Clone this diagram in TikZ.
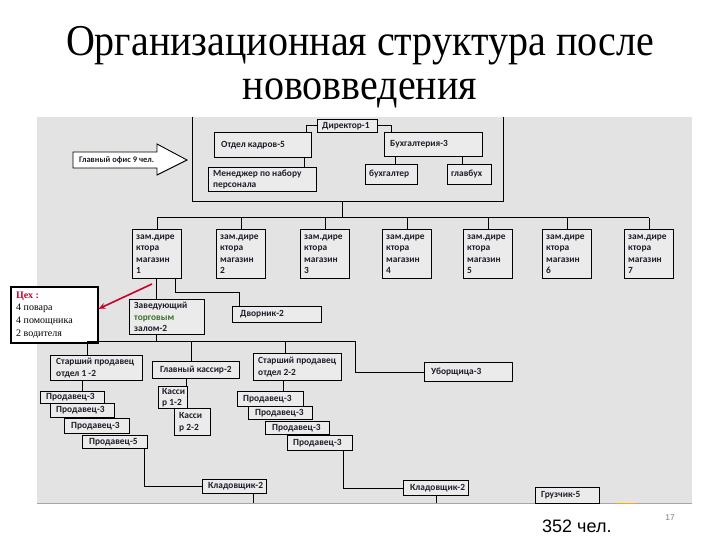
\documentclass[tikz,border=0pt]{standalone}
\usepackage{fontspec}
\setmainfont{Liberation Serif}
\newfontfamily\boxfont{Carlito}
\newfontfamily\numfont{Liberation Sans}
\usetikzlibrary{arrows.meta,calc}
\definecolor{bgc}{HTML}{E3E3E3}
\definecolor{boxfill}{HTML}{EBEBEB}
\definecolor{txt}{HTML}{1E1E2A}
\definecolor{redc}{HTML}{C8002A}
\definecolor{grn}{HTML}{3C6E2E}
\newcommand\mybox[7][5]{%
  \node[bx,anchor=north west,minimum width=#5pt,minimum height=#6pt] (#2) at (#3,#4) {};
  \node[lbl,anchor=west] (#2t) at ([xshift=#1pt]#2.west) {#7};}
\begin{document}
\begin{tikzpicture}[x=1pt,y=-1pt,
  bx/.style={draw=black,line width=1pt,fill=boxfill,inner sep=0pt},
  lbl/.style={font=\boxfont\bfseries\fontsize{9.4}{11.5}\selectfont,text=txt,align=left,inner sep=0pt},
  cn/.style={draw=black,line width=1pt},
  ttl/.style={font=\fontsize{40}{48}\selectfont,anchor=base,yscale=1.1,inner sep=0pt},
  redarr/.style={draw=redc,line width=1.6pt,-{Stealth[length=7pt,width=6pt]}}]
\useasboundingbox (0,0) rectangle (720,540);
% background panel
\fill[bgc] (37,117) rectangle (692,503);
\draw[gray!70,line width=0.8pt] (37,503) -- (692,503);
\draw[orange!70!yellow,line width=0.9pt] (617,503) -- (635,503);
% title
\node[ttl] (t1) at (360,56) {Организационная структура после};
\node[ttl] (t2) at (360,100) {нововведения};
% head office frame
\draw[line width=1pt] (192,117) -- (192,202) -- (503,202) -- (503,117);
\coordinate (ofb) at (342,202);
\coordinate (bus) at (342,218);
% block arrow
\draw[line width=0.9pt,fill=white] (73,152) -- (157,152) -- (157,144) -- (187,160) -- (157,175) -- (157,168) -- (73,168) -- cycle;
\node[lbl,font=\boxfont\bfseries\fontsize{8.5}{10}\selectfont,anchor=west] (arr) at (79,160) {Главный офис 9 чел.};
% office boxes
\mybox{dir}{317}{119}{60}{13}{Директор-1}
\mybox[7]{ok}{214}{132}{97}{25}{Отдел кадров-5}
\mybox{mgr}{208}{167}{108}{24}{Менеджер по набору\\персонала}
\mybox[6]{buh}{384}{132}{98}{24}{Бухгалтерия-3}
\mybox[4]{buhg}{365}{164}{52}{20}{бухгалтер}
\mybox[4]{glb}{447}{164}{44}{20}{главбух}
% stores
\foreach \i/\x in {1/132,2/216,3/300,4/382,5/463,6/542,7/624}{
  \mybox[4]{s\i}{\x}{229}{49}{49}{зам.дире\\ктора\\магазин\\\i}
}
% store 1 subtree
\mybox{zav}{129}{299}{75}{35}{Заведующий\\\textcolor{grn}{торговым}\\залом-2}
\mybox[8]{dvor}{232}{306}{89}{16}{Дворник-2}
\mybox[6]{sp1}{50}{355}{92}{25}{Старший продавец\\отдел 1 -2}
\mybox[8]{gk}{152}{361}{87}{17}{Главный кассир-2}
\mybox{sp2}{253}{353}{88}{27}{Старший продавец\\отдел 2-2}
\mybox[7]{ub}{424}{362}{88}{19}{Уборщица-3}
% sellers left
\mybox[6]{P1}{40}{391}{64}{12}{Продавец-3}
\mybox[6]{P2}{50}{403}{64}{14}{Продавец-3}
\mybox[7]{P3}{64}{418}{65}{15}{Продавец-3}
\mybox[7]{P4}{82}{435}{65}{13}{Продавец-5}
% cashiers
\mybox[4]{K1}{158}{386}{29}{22}{Касси\\р 1-2}
\mybox[5]{K2}{174}{408}{36}{27}{Касси\\р 2-2}
% sellers right
\mybox[6]{R1}{237}{391}{66}{15}{Продавец-3}
\mybox[7]{R2}{248}{406}{64}{13}{Продавец-3}
\mybox[7]{R3}{265}{421}{64}{13}{Продавец-3}
\mybox[6]{R4}{287}{435}{65}{15}{Продавец-3}
% storekeepers, loaders
\mybox[6]{kl1}{202}{479}{64}{14}{Кладовщик-2}
\mybox[7]{kl2}{403}{480}{65}{15}{Кладовщик-2}
\mybox[6]{gr}{535}{487}{64}{16}{Грузчик-5}
% workshop box
\node[draw=black,line width=1.6pt,fill=white,anchor=north west,minimum width=87pt,minimum height=56pt,inner sep=0pt] (tsex) at (10,286) {};
\node[font=\fontsize{10}{12.7}\selectfont,align=left,anchor=west,inner sep=0pt] (tsext) at ([xshift=6pt]tsex.west) {\textcolor{redc}{\textbf{Цех :}}\\4 повара\\4 помощника\\2 водителя};
% connectors: office
\draw[cn] (dir.west) -| ([xshift=-6pt]ok.north east);
\draw[cn] (dir.east) -| ([xshift=7pt]buh.north west);
\draw[cn] ([xshift=-8pt]ok.south east) -- ([xshift=-8pt]ok.south east |- mgr.north);
\draw[cn] ([xshift=30pt]buhg.north west) -- ([xshift=30pt]buhg.north west |- buh.south);
\draw[cn] ([xshift=15pt]glb.north west) -- ([xshift=15pt]glb.north west |- buh.south);
\draw[cn] (ofb) -- (bus);
\draw[cn] (s1.north |- bus) -- (s7.north |- bus);
\foreach \i in {1,...,7}{\draw[cn] (s\i.north) -- (s\i.north |- bus);}
% store 1
\draw[cn] ([xshift=-1pt]s1.south) -- ([xshift=-1pt]s1.south |- zav.north);
\draw[cn] ([xshift=18pt]s1.south) -- ++(0,13) -| ([xshift=7pt]dvor.north west);
\coordinate (b2l) at (87,341);
\coordinate (b2r) at (355,341);
\draw[cn] ([xshift=-1pt]s1.south |- zav.south) -- ([xshift=-1pt]s1.south |- b2l);
\draw[cn] (b2l) -- (b2r) |- (ub.west);
\draw[cn] (b2l) -- (b2l |- sp1.north);
\draw[cn] ([xshift=39pt]gk.north west) -- ([xshift=39pt]gk.north west |- b2l);
\draw[cn] ([xshift=32pt]sp2.north west) -- ([xshift=32pt]sp2.north west |- b2l);
\draw[cn] ([xshift=32pt]sp1.south west) -- ([xshift=32pt]sp1.south west |- P1.north);
\draw[cn] ([xshift=-2pt]K1.north east) -- ([xshift=-2pt]K1.north east |- gk.south);
\draw[cn] ([xshift=46pt]R1.north west) -- ([xshift=46pt]R1.north west |- sp2.south);
\draw[cn] ([xshift=-4pt]P4.south east) |- (kl1.west);
\draw[cn] ([xshift=-10pt]R4.south east) |- (kl2.west);
\coordinate (kl1e) at (253,503);
\coordinate (kl2e) at (436,503);
\draw[cn] (kl1.south -| kl1e) -- (kl1e);
\draw[cn] (kl2.south -| kl2e) -- (kl2e);
% red pointer
\coordinate (ra) at (152,284);
\draw[redarr] (ra) -- ([yshift=6pt]tsex.east);
% footer
\node[font=\numfont\fontsize{18}{20}\selectfont,anchor=base west,inner sep=0pt] (total) at (542,532) {352 чел.};
\node[font=\numfont\fontsize{8.5}{10}\selectfont,text=gray,anchor=base,inner sep=0pt] (pg) at (670,520) {17};
\end{tikzpicture}
\end{document}
